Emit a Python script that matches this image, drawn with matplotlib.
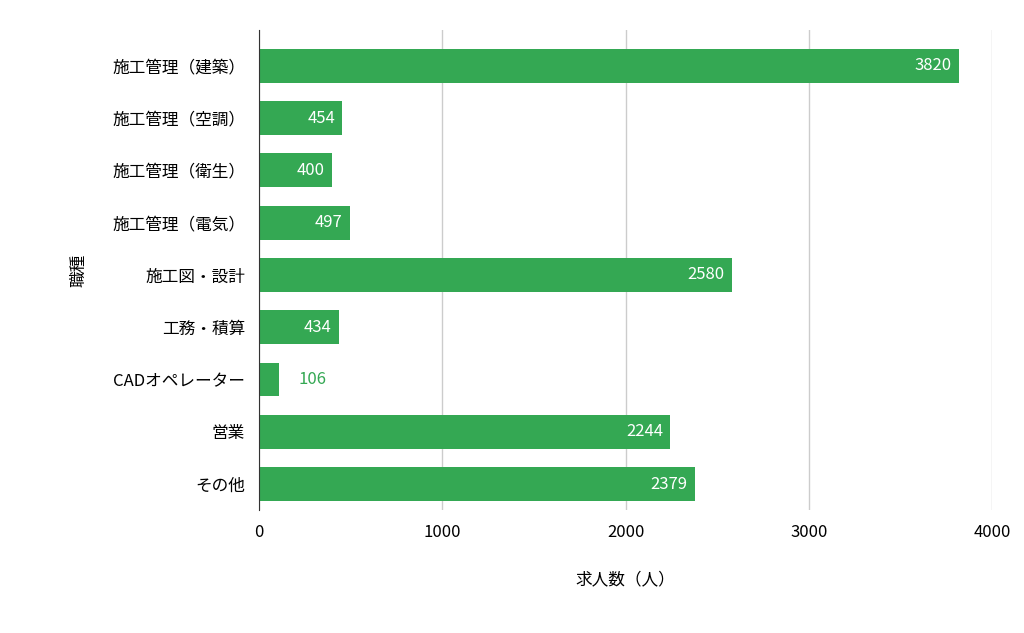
import matplotlib
matplotlib.use("Agg")
import matplotlib.pyplot as plt

plt.rcParams["font.family"] = "Noto Sans CJK JP"

categories = ["施工管理（建築）", "施工管理（空調）", "施工管理（衛生）", "施工管理（電気）",
              "施工図・設計", "工務・積算", "CADオペレーター", "営業", "その他"]
values = [3820, 454, 400, 497, 2580, 434, 106, 2244, 2379]
xticks = [0, 1000, 2000, 3000, 4000]
color = "#34a853"

fig = plt.figure(figsize=(10.24, 6.33), dpi=100)
ax = fig.add_axes([0.253, 0.194, 0.716, 0.759])
ys = list(range(len(categories)))
ax.barh(ys, values, height=0.65, color=color, zorder=2)
for y, v in zip(ys, values):
    if v > 300:
        ax.text(v - 40, y, str(v), ha="right", va="center", color="white", fontsize=12, zorder=3)
    else:
        ax.text(v + 110, y, str(v), ha="left", va="center", color=color, fontsize=12, zorder=3)
ax.set_yticks(ys)
ax.set_yticklabels(categories, fontsize=12)
ax.set_ylim(8.5, -0.69)
ax.set_xlim(0, 4000)
ax.set_xticks(xticks)
ax.set_xticklabels([str(t) for t in xticks], fontsize=12)
ax.grid(axis="x", color="#cccccc", linewidth=1, zorder=0)
for s in ["top", "right", "bottom"]:
    ax.spines[s].set_visible(False)
ax.spines["left"].set_color("#333333")
ax.tick_params(length=0, pad=10)
ax.set_xlabel("求人数（人）", fontsize=12, labelpad=22)
ax.set_ylabel("職種", fontsize=12, labelpad=18)
fig.savefig("out.png", dpi=100)
